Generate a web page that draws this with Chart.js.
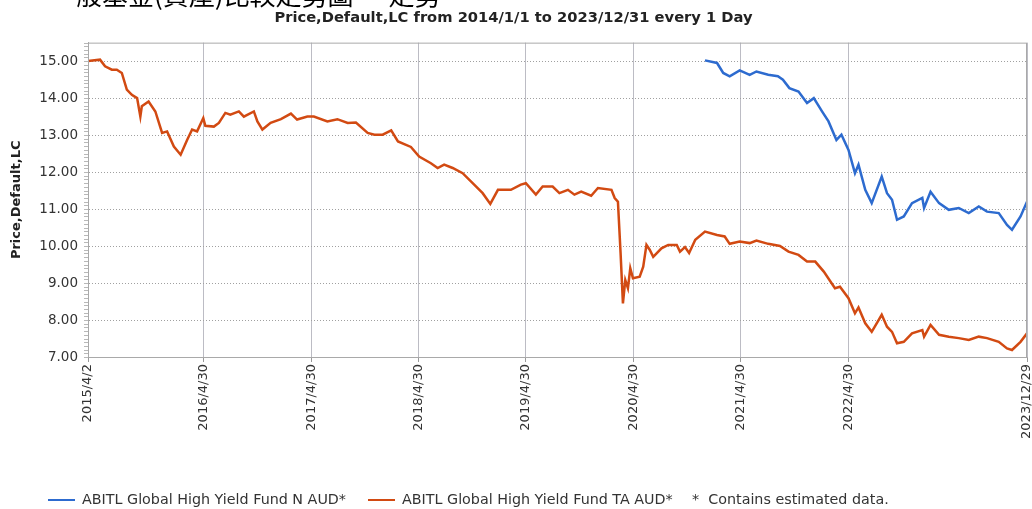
<!DOCTYPE html>
<html>
<head>
<meta charset="utf-8">
<script src="https://cdn.jsdelivr.net/npm/chart.js@4.4.1/dist/chart.umd.min.js"></script>
<style>
  html, body { margin: 0; padding: 0; background: #fff; }
  #wrap { position: relative; width: 1032px; height: 509px; overflow: hidden; }
  #cut { position: absolute; left: 50px; top: -25px; font: 26px "Noto Sans CJK TC"; color: #000; white-space: nowrap; }
  .lg { position: absolute; top: 491px; font: 14.3px "DejaVu Sans", sans-serif; color: #333; white-space: pre; }
  .lg span.sw { display: inline-block; width: 27px; height: 2px; vertical-align: middle; margin-right: 7px; }
</style>
</head>
<body>
<div id="wrap">
  <div id="cut">一般基金(資產)比較走勢圖 — 走勢</div>
  <canvas id="myChart" width="1032" height="509"></canvas>
</div>
<script>
let title = 'Price,Default,LC from 2014/1/1 to 2023/12/31 every 1 Day';
let yTitle = 'Price,Default,LC';
let startDate = '2015-04-02';
let xTickDates = ['2015-04-02', '2016-04-30', '2017-04-30', '2018-04-30', '2019-04-30',
  '2020-04-30', '2021-04-30', '2022-04-30', '2023-12-29'];
let names = ['ABITL Global High Yield Fund N AUD*', 'ABITL Global High Yield Fund TA AUD*'];
let note = '*  Contains estimated data.';
let colorHex = ['#2d6bcf', '#d24a12'];

let blueDates = ['2020-12-29','2021-02-08','2021-03-01','2021-03-23','2021-04-26','2021-05-30','2021-06-22',
  '2021-08-01','2021-09-03','2021-09-20','2021-10-12','2021-11-12','2021-12-11','2022-01-03','2022-01-31',
  '2022-02-22','2022-03-21','2022-04-07','2022-05-01','2022-05-23','2022-06-04','2022-06-27','2022-07-19',
  '2022-08-22','2022-09-09','2022-09-26','2022-10-13','2022-11-05','2022-12-03','2023-01-07','2023-01-13',
  '2023-02-04','2023-03-05','2023-04-07','2023-05-11','2023-06-14','2023-07-18','2023-08-15','2023-09-24',
  '2023-10-22','2023-11-08','2023-12-07','2023-12-29'];
let blueValues = [15.02,14.95,14.68,14.59,14.75,14.63,14.72,14.63,14.59,14.50,14.27,14.18,13.87,14.00,13.64,
  13.37,12.87,13.01,12.60,11.97,12.20,11.52,11.16,11.88,11.43,11.25,10.71,10.80,11.16,11.30,11.03,
  11.47,11.16,10.98,11.03,10.89,11.07,10.93,10.89,10.57,10.44,10.80,11.20];

let orangeDates = ['2015-04-02','2015-05-13','2015-05-30','2015-06-22','2015-07-09','2015-07-26','2015-08-12',
  '2015-08-29','2015-09-16','2015-09-27','2015-10-02','2015-10-25','2015-11-17','2015-12-10','2015-12-27',
  '2016-01-19','2016-02-11','2016-03-04','2016-03-21','2016-04-07','2016-04-28','2016-05-05','2016-06-03',
  '2016-06-20','2016-07-12','2016-07-29','2016-08-27','2016-09-13','2016-10-17','2016-10-29','2016-11-15',
  '2016-12-13','2017-01-17','2017-02-20','2017-03-13','2017-04-17','2017-05-09','2017-06-24','2017-07-28',
  '2017-09-01','2017-09-29','2017-11-08','2017-12-01','2017-12-29','2018-01-27','2018-02-19','2018-04-04',
  '2018-05-02','2018-06-11','2018-07-04','2018-07-26','2018-08-24','2018-09-27','2018-10-31','2018-12-04',
  '2018-12-30','2019-01-25','2019-03-10','2019-04-13','2019-04-30','2019-06-03','2019-06-26','2019-07-30',
  '2019-08-22','2019-09-20','2019-10-12','2019-11-04','2019-12-08','2019-12-31','2020-02-15','2020-02-26',
  '2020-03-08','2020-03-17','2020-03-25','2020-04-02','2020-04-11','2020-04-19','2020-04-28','2020-05-21',
  '2020-06-02','2020-06-13','2020-06-24','2020-07-06','2020-08-03','2020-08-26','2020-09-24','2020-10-05',
  '2020-10-22','2020-11-05','2020-11-26','2020-12-29','2021-02-08','2021-03-06','2021-03-23','2021-04-26',
  '2021-05-30','2021-06-22','2021-08-01','2021-09-10','2021-10-09','2021-11-12','2021-12-11','2022-01-08',
  '2022-02-06','2022-03-16','2022-04-02','2022-05-01','2022-05-23','2022-06-04','2022-06-27','2022-07-19',
  '2022-08-22','2022-09-09','2022-09-26','2022-10-13','2022-11-05','2022-12-03','2023-01-07','2023-01-13',
  '2023-02-04','2023-03-05','2023-04-07','2023-05-11','2023-06-14','2023-07-18','2023-08-15','2023-09-24',
  '2023-10-22','2023-11-08','2023-12-07','2023-12-29'];
let orangeValues = [15.00,15.04,14.86,14.77,14.77,14.68,14.23,14.09,14.00,13.50,13.78,13.91,13.64,13.06,13.10,
  12.69,12.47,12.87,13.15,13.10,13.46,13.25,13.23,13.33,13.60,13.55,13.64,13.50,13.64,13.37,13.15,13.33,
  13.43,13.58,13.42,13.50,13.50,13.37,13.43,13.33,13.34,13.06,13.01,13.01,
  13.13,12.83,12.68,12.42,12.24,12.11,12.20,12.11,11.97,11.70,11.43,11.14,
  11.52,11.52,11.66,11.70,11.39,11.61,11.61,11.43,11.52,11.39,11.47,11.36,11.57,
  11.52,11.30,11.20,9.81,8.45,9.08,8.86,9.40,9.13,9.17,9.44,10.03,9.90,9.71,9.94,10.03,10.03,9.85,9.97,9.81,10.17,10.39,
  10.30,10.26,10.06,10.12,10.08,10.15,10.06,10.00,9.85,9.76,9.58,
  9.58,9.31,8.86,8.90,8.59,8.18,8.34,7.91,7.68,8.14,7.82,7.68,7.37,7.41,7.64,
  7.73,7.55,7.87,7.60,7.55,7.51,7.46,7.55,7.51,7.41,7.23,7.19,7.41,7.64];

const DAY = 86400000;
const t0 = Date.parse(startDate);
const dayNum = (s) => (Date.parse(s) - t0) / DAY;
const fmtDay = (n) => {
  let d = new Date(t0 + n * DAY);
  return d.getUTCFullYear() + '/' + (d.getUTCMonth() + 1) + '/' + d.getUTCDate();
};
const toPoints = (dates, vals) => dates.map((s, i) => ({ x: dayNum(s), y: vals[i] }));

// frame + minor y ticks
const framePlugin = {
  id: 'frame',
  afterDraw(chart) {
    let c = chart.ctx, a = chart.chartArea, ys = chart.scales.y;
    c.save();
    c.strokeStyle = '#a9a9a9';
    c.lineWidth = 1;
    c.strokeRect(a.left + 0.5, a.top + 0.5, a.right - a.left - 1, a.bottom - a.top);
    c.strokeStyle = '#b8b8b8';
    c.beginPath();
    for (let v = 7; v <= 15.5001; v += 0.1) {
      let y = Math.round(ys.getPixelForValue(v)) + 0.5;
      c.moveTo(a.left - 4, y);
      c.lineTo(a.left, y);
    }
    c.stroke();
    c.restore();
  }
};

let ctx = document.getElementById('myChart').getContext('2d');
let myChart = new Chart(ctx, {
  type: 'line',
  data: {
    datasets: [{
      label: names[0],
      data: toPoints(blueDates, blueValues),
      borderColor: colorHex[0],
      borderWidth: 2.5,
      pointRadius: 0,
      tension: 0
    }, {
      label: names[1],
      data: toPoints(orangeDates, orangeValues),
      borderColor: colorHex[1],
      borderWidth: 2.5,
      pointRadius: 0,
      tension: 0
    }]
  },
  options: {
    responsive: false,
    animation: false,
    layout: { padding: { left: 0, right: 5, top: 0, bottom: 0 } },
    plugins: {
      legend: { display: false },
      tooltip: { enabled: false },
      title: {
        display: true,
        text: title,
        color: '#222',
        font: { family: 'DejaVu Sans', size: 14.7, weight: 'bold', lineHeight: 1.2 },
        padding: { top: 9, bottom: 16 }
      }
    },
    scales: {
      x: {
        type: 'linear',
        min: 0,
        max: dayNum(xTickDates[xTickDates.length - 1]),
        afterBuildTicks: (s) => { s.ticks = xTickDates.map(d => ({ value: dayNum(d) })); },
        afterFit: (s) => { s.height = 152; s.paddingLeft = 0; s.paddingRight = 0; },
        ticks: {
          autoSkip: false,
          minRotation: 90,
          maxRotation: 90,
          padding: 2,
          color: '#333',
          font: { family: 'DejaVu Sans', size: 13 },
          callback: (v) => fmtDay(v)
        },
        grid: { color: '#bcbcc4', tickLength: 5, tickColor: '#999' },
        border: { color: '#a9a9a9' }
      },
      y: {
        min: 7,
        max: 15.5,
        afterFit: (s) => { s.width = 88; },
        ticks: {
          stepSize: 0.5,
          padding: 10,
          color: '#333',
          font: { family: 'DejaVu Sans', size: 13.5 },
          callback: (v) => Number(v).toFixed(2)
        },
        grid: { color: '#a0a0a0', drawTicks: false },
        border: { color: '#a9a9a9', dash: [1, 2] },
        title: {
          display: true,
          text: yTitle,
          color: '#222',
          font: { family: 'DejaVu Sans', size: 13, weight: 'bold' },
          padding: { top: 9, bottom: 0 }
        }
      }
    }
  },
  plugins: [framePlugin]
});

// legend below the chart, laid out like the source image
let wrap = document.getElementById('wrap');
let legendLeft = [48, 368, 692];
names.forEach((n, i) => {
  let el = document.createElement('div');
  el.className = 'lg';
  el.style.left = legendLeft[i] + 'px';
  el.innerHTML = '<span class="sw" style="background:' + colorHex[i] + '"></span>' + n;
  wrap.appendChild(el);
});
let noteEl = document.createElement('div');
noteEl.className = 'lg';
noteEl.style.left = legendLeft[2] + 'px';
noteEl.textContent = note;
wrap.appendChild(noteEl);
</script>
</body>
</html>
